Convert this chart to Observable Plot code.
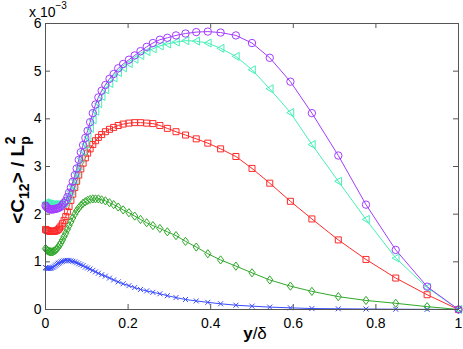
<!DOCTYPE html>
<html><head><meta charset="utf-8">
<script src="https://cdn.jsdelivr.net/npm/d3@7"></script>
<script src="https://cdn.jsdelivr.net/npm/@observablehq/plot@0.6"></script>
<style>body{margin:0;background:#fff}#chart{width:463px;height:349px}</style>
</head><body><div id="chart"></div>
<script>
// y/delta grid (shared by all series)
const yDelta = [0, 0.002, 0.004, 0.006, 0.0085, 0.011, 0.013, 0.016, 0.019, 0.022, 0.025, 0.028, 0.031, 0.034, 0.0375, 0.041, 0.045, 0.049, 0.053, 0.057, 0.0615, 0.066, 0.071, 0.0755, 0.0805, 0.0855, 0.091, 0.0965, 0.102, 0.108, 0.1145, 0.121, 0.128, 0.136, 0.145, 0.155, 0.165, 0.176, 0.188, 0.202, 0.216, 0.23, 0.245, 0.26, 0.277, 0.295, 0.316, 0.339, 0.365, 0.393, 0.424, 0.461, 0.5, 0.543, 0.593, 0.645, 0.709, 0.776, 0.848, 0.924, 1.0];
// <C12>/Lp^2 values, x 10^-3
const purpleVals = [2.18, 2.16, 2.14, 2.12, 2.11, 2.10, 2.10, 2.10, 2.10, 2.11, 2.11, 2.12, 2.13, 2.14, 2.16, 2.20, 2.24, 2.28, 2.36, 2.45, 2.56, 2.68, 2.82, 2.96, 3.14, 3.30, 3.45, 3.60, 3.75, 3.93, 4.12, 4.30, 4.45, 4.59, 4.71, 4.84, 4.94, 5.06, 5.15, 5.24, 5.33, 5.42, 5.51, 5.59, 5.66, 5.70, 5.75, 5.79, 5.82, 5.83, 5.81, 5.75, 5.59, 5.28, 4.78, 4.12, 3.23, 2.20, 1.25, 0.48, 0];
const cyanVals = [2.24, 2.23, 2.22, 2.22, 2.21, 2.21, 2.20, 2.20, 2.20, 2.20, 2.20, 2.20, 2.20, 2.21, 2.21, 2.22, 2.24, 2.27, 2.32, 2.39, 2.48, 2.59, 2.72, 2.86, 3.01, 3.17, 3.32, 3.47, 3.62, 3.80, 3.98, 4.16, 4.32, 4.47, 4.61, 4.74, 4.86, 4.97, 5.07, 5.16, 5.25, 5.33, 5.41, 5.47, 5.53, 5.57, 5.61, 5.64, 5.63, 5.59, 5.48, 5.31, 5.03, 4.63, 4.13, 3.46, 2.69, 1.89, 1.08, 0.46, 0];
const redVals = [1.68, 1.67, 1.66, 1.65, 1.65, 1.64, 1.64, 1.64, 1.64, 1.64, 1.65, 1.66, 1.68, 1.71, 1.75, 1.80, 1.87, 1.95, 2.05, 2.16, 2.29, 2.42, 2.56, 2.69, 2.82, 2.95, 3.07, 3.18, 3.28, 3.37, 3.46, 3.54, 3.61, 3.67, 3.73, 3.78, 3.82, 3.86, 3.89, 3.91, 3.92, 3.92, 3.91, 3.90, 3.86, 3.80, 3.73, 3.66, 3.58, 3.49, 3.37, 3.21, 2.96, 2.65, 2.27, 1.90, 1.46, 1.05, 0.66, 0.31, 0];
const greenVals = [1.28, 1.26, 1.24, 1.23, 1.22, 1.21, 1.21, 1.21, 1.22, 1.23, 1.25, 1.28, 1.31, 1.35, 1.40, 1.46, 1.53, 1.60, 1.68, 1.76, 1.84, 1.92, 2.00, 2.07, 2.13, 2.18, 2.23, 2.26, 2.29, 2.31, 2.32, 2.32, 2.32, 2.30, 2.28, 2.24, 2.20, 2.15, 2.09, 2.03, 1.96, 1.89, 1.82, 1.76, 1.70, 1.63, 1.55, 1.43, 1.31, 1.17, 1.04, 0.91, 0.77, 0.62, 0.49, 0.38, 0.27, 0.19, 0.13, 0.06, 0];
const blueVals = [0.88, 0.87, 0.86, 0.86, 0.86, 0.86, 0.87, 0.88, 0.89, 0.91, 0.93, 0.95, 0.97, 0.98, 1.00, 1.01, 1.02, 1.03, 1.03, 1.03, 1.02, 1.01, 1.00, 0.98, 0.96, 0.94, 0.92, 0.89, 0.87, 0.85, 0.82, 0.79, 0.76, 0.73, 0.70, 0.66, 0.62, 0.58, 0.54, 0.50, 0.46, 0.42, 0.39, 0.36, 0.33, 0.29, 0.25, 0.21, 0.18, 0.15, 0.12, 0.09, 0.07, 0.05, 0.035, 0.02, 0.015, 0.01, 0.006, 0.003, 0];

const xTicks = [0, 0.2, 0.4, 0.6, 0.8, 1];
const yTicks = [0, 1, 2, 3, 4, 5, 6];

const symCircle = {draw(c){ c.moveTo(3.7,0); c.arc(0,0,3.7,0,2*Math.PI); }};
const symSquare = {draw(c){ c.rect(-3,-3,6,6); }};
const symDiamond = {draw(c){ c.moveTo(0,-4.1); c.lineTo(3.1,0); c.lineTo(0,4.1); c.lineTo(-3.1,0); c.closePath(); }};
const symTriLeft = {draw(c){ c.moveTo(-3.7,0); c.lineTo(3.3,-4); c.lineTo(3.3,4); c.closePath(); }};
const symTimes = {draw(c){ c.moveTo(-2.5,-2.5); c.lineTo(2.5,2.5); c.moveTo(2.5,-2.5); c.lineTo(-2.5,2.5); }};

const series = [
  {vals: blueVals, color: "#3a4cff", sym: symTimes},
  {vals: greenVals, color: "#2fa82a", sym: symDiamond},
  {vals: redVals, color: "#ff2a2a", sym: symSquare},
  {vals: cyanVals, color: "#45f0b8", sym: symTriLeft},
  {vals: purpleVals, color: "#a23cff", sym: symCircle}
];

const W = 463, H = 349, mL = 45, mR = 5, mT = 23, mB = 40;
const fw = W - mL - mR, fh = H - mT - mB, tk = 5;

const marks = [];
for (const s of series) {
  const rows = yDelta.map((x, i) => ({x, v: s.vals[i]}));
  marks.push(Plot.line(rows, {x: "x", y: "v", stroke: s.color, strokeWidth: 1}));
  marks.push(Plot.dot(rows, {x: "x", y: "v", stroke: s.color, strokeWidth: 1, fill: "none", symbol: s.sym, r: 3}));
}
const axCol = "#555";
marks.push(
  Plot.frame({stroke: axCol, strokeWidth: 1}),
  // inward ticks on all four sides
  Plot.tickX(xTicks, {x: d => d, stroke: axCol, insetTop: fh - tk}),
  Plot.tickX(xTicks, {x: d => d, stroke: axCol, insetBottom: fh - tk}),
  Plot.tickY(yTicks, {y: d => d, stroke: axCol, insetRight: fw - tk}),
  Plot.tickY(yTicks, {y: d => d, stroke: axCol, insetLeft: fw - tk}),
  Plot.axisX({anchor: "bottom", ticks: xTicks, tickSize: 0, tickPadding: 9, tickFormat: d => String(d), fontSize: 14, fill: "#000", label: null}),
  Plot.axisY({anchor: "left", ticks: yTicks, tickSize: 0, tickPadding: 4, tickFormat: d => String(d), fontSize: 14, fill: "#000", label: null})
);

const chart = Plot.plot({
  width: W, height: H,
  marginLeft: mL, marginRight: mR, marginTop: mT, marginBottom: mB,
  x: {domain: [0, 1], label: null},
  y: {domain: [0, 6], label: null},
  style: {fontFamily: "'Liberation Sans', Arial, sans-serif", fontSize: "14px", background: "#fff", color: "#000"},
  marks
});
document.getElementById("chart").appendChild(chart);

const svg = d3.select(chart);
const ff = "'Liberation Sans', Arial, sans-serif";
// exponent label
const ex = svg.append("text").attr("x", 48).attr("y", 17).attr("font-family", ff).attr("font-size", 14).attr("fill", "#000");
ex.append("tspan").text("x 10");
ex.append("tspan").attr("dy", -8).attr("font-size", 10).text("\u22123");
// y label
const yl = svg.append("text").attr("transform", "translate(24,180) rotate(-90)")
  .attr("text-anchor", "middle").attr("font-family", ff).attr("font-size", 19).attr("font-weight", "bold").attr("fill", "#000");
yl.append("tspan").text("<C");
yl.append("tspan").attr("dy", 5).attr("font-size", 14).text("12");
yl.append("tspan").attr("dy", -5).text("> / L");
yl.append("tspan").attr("dy", 6).attr("font-size", 14).text("p");
yl.append("tspan").attr("dx", -8).attr("dy", -15).attr("font-size", 14).text("2");
// x label
const xl = svg.append("text").attr("x", 255).attr("y", 339).attr("text-anchor", "middle")
  .attr("font-family", ff).attr("font-size", 17).attr("fill", "#000");
xl.append("tspan").attr("font-weight", "bold").text("y");
xl.append("tspan").text("/\u03b4");
</script>
</body></html>
